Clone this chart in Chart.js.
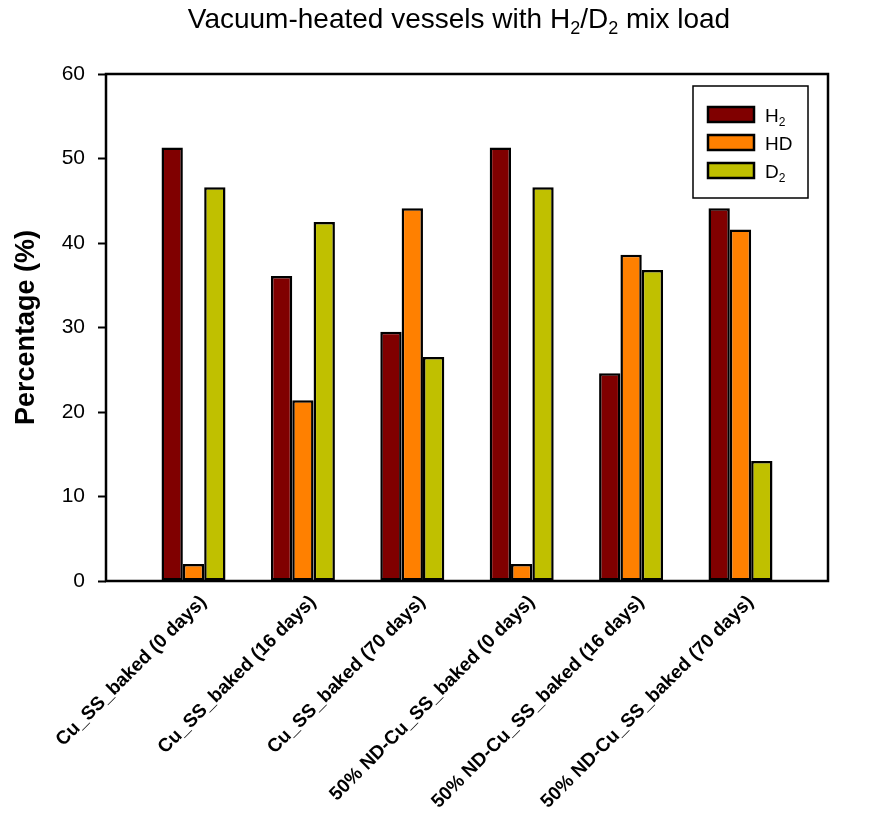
<!DOCTYPE html>
<html lang="en">
  <head>
    <meta charset="UTF-8" />
    <title>Vacuum-heated vessels with H2/D2 mix load</title>
    <script src="https://cdn.jsdelivr.net/npm/chart.js"></script>
    <style>
      html, body { margin: 0; padding: 0; background: #fff; }
      #wrap { width: 881px; height: 813px; }
    </style>
  </head>
  <body>
    <div id="wrap"><canvas id="mixChart" width="881" height="813"></canvas></div>

    <script>
      // Daten
      const categories = [
        "Cu_SS_baked (0 days)",
        "Cu_SS_baked (16 days)",
        "Cu_SS_baked (70 days)",
        "50% ND-Cu_SS_baked (0 days)",
        "50% ND-Cu_SS_baked (16 days)",
        "50% ND-Cu_SS_baked (70 days)",
      ];
      const seriesNames = ["H2", "HD", "D2"];
      const h2Values = [51.3, 36.1, 29.5, 51.3, 24.6, 44.1];
      const hdValues = [2.0, 21.4, 44.1, 2.0, 38.6, 41.6];
      const d2Values = [46.6, 42.5, 26.5, 46.6, 36.8, 14.2];
      const yTicks = [0, 10, 20, 30, 40, 50, 60];
      const chartTitle = "Vacuum-heated vessels with H2/D2 mix load";

      const colors = ["#800000", "#ff8000", "#c0c000"];
      const FONT = "'Liberation Sans', Arial, sans-serif";

      // Text mit tiefgestellten Ziffern (H2 -> H + kleine 2)
      function drawRich(ctx, text, x, y, size, align) {
        const parts = [];
        for (let i = 0; i < text.length; i++) {
          const ch = text[i];
          const sub = /\d/.test(ch) && i > 0 && /[A-Z]/.test(text[i - 1]);
          if (parts.length && parts[parts.length - 1].sub === sub) parts[parts.length - 1].t += ch;
          else parts.push({ t: ch, sub: sub });
        }
        const subSize = Math.round(size * 0.65);
        let total = 0;
        parts.forEach((p) => {
          ctx.font = (p.sub ? subSize : size) + "px " + FONT;
          p.w = ctx.measureText(p.t).width;
          total += p.w;
        });
        let cx = align === "center" ? x - total / 2 : x;
        ctx.textAlign = "left";
        ctx.textBaseline = "alphabetic";
        parts.forEach((p) => {
          ctx.font = (p.sub ? subSize : size) + "px " + FONT;
          ctx.fillText(p.t, cx, p.sub ? y + size * 0.22 : y);
          cx += p.w;
        });
      }

      const framePlugin = {
        id: "frame",
        afterDraw(chart) {
          const ctx = chart.ctx;
          const a = chart.chartArea;
          ctx.save();
          // Rahmen um den Plotbereich
          ctx.strokeStyle = "#000";
          ctx.lineWidth = 2.5;
          ctx.strokeRect(a.left, a.top, a.right - a.left, a.bottom - a.top);

          // Titel
          ctx.fillStyle = "#000";
          drawRich(ctx, chartTitle, 459, 28, 28, "center");

          // Legende im Plot oben rechts
          const bx = a.right - 135, by = a.top + 12, bw = 115, bh = 112;
          ctx.lineWidth = 1.5;
          ctx.fillStyle = "#fff";
          ctx.fillRect(bx, by, bw, bh);
          ctx.strokeRect(bx, by, bw, bh);
          chart.data.datasets.forEach((ds, i) => {
            const sy = by + 21 + i * 28;
            ctx.fillStyle = ds.backgroundColor;
            ctx.fillRect(bx + 15, sy, 46, 15);
            ctx.lineWidth = 2.5;
            ctx.strokeRect(bx + 15, sy, 46, 15);
            ctx.fillStyle = "#000";
            drawRich(ctx, ds.label, bx + 72, sy + 15, 19, "left");
          });
          ctx.restore();
        },
      };

      const makeData = (vals) => vals.map((v, i) => ({ x: i + 1, y: v }));

      new Chart(document.getElementById("mixChart").getContext("2d"), {
        type: "bar",
        data: {
          datasets: [h2Values, hdValues, d2Values].map((vals, i) => ({
            label: seriesNames[i],
            data: makeData(vals),
            backgroundColor: colors[i],
            borderColor: "#000",
            borderWidth: 2.5,
            borderSkipped: false,
            barPercentage: 1,
            categoryPercentage: 0.585,
          })),
        },
        options: {
          responsive: false,
          animation: false,
          layout: { padding: { top: 74, right: 53, left: 0, bottom: 0 } },
          plugins: {
            legend: { display: false },
            title: { display: false },
            tooltip: { enabled: false },
          },
          scales: {
            x: {
              type: "linear",
              min: 0.2,
              max: 6.8,
              offset: false,
              afterFit: (scale) => { scale.height = 232; },
              afterBuildTicks: (scale) => {
                scale.ticks = categories.map((c, i) => ({ value: i + 1 }));
              },
              grid: { display: false },
              border: { display: false },
              ticks: {
                autoSkip: false,
                minRotation: 45,
                maxRotation: 45,
                padding: 2,
                labelOffset: 10,
                color: "#000",
                font: { family: FONT, size: 19, weight: "bold" },
                callback: (v) => categories[v - 1],
              },
            },
            y: {
              min: 0,
              max: 60,
              afterFit: (scale) => { scale.width = 106; },
              afterBuildTicks: (scale) => {
                scale.ticks = yTicks.map((v) => ({ value: v }));
              },
              grid: {
                drawOnChartArea: false,
                drawTicks: true,
                tickLength: 8,
                tickColor: "#000",
                tickWidth: 2,
              },
              border: { display: false },
              ticks: {
                padding: 13,
                color: "#000",
                font: { family: FONT, size: 21 },
              },
              title: {
                display: true,
                text: "Percentage (%)",
                color: "#000",
                padding: { top: 10, bottom: 0 },
                font: { family: FONT, size: 27, weight: "bold" },
              },
            },
          },
        },
        plugins: [framePlugin],
      });
    </script>
  </body>
</html>
